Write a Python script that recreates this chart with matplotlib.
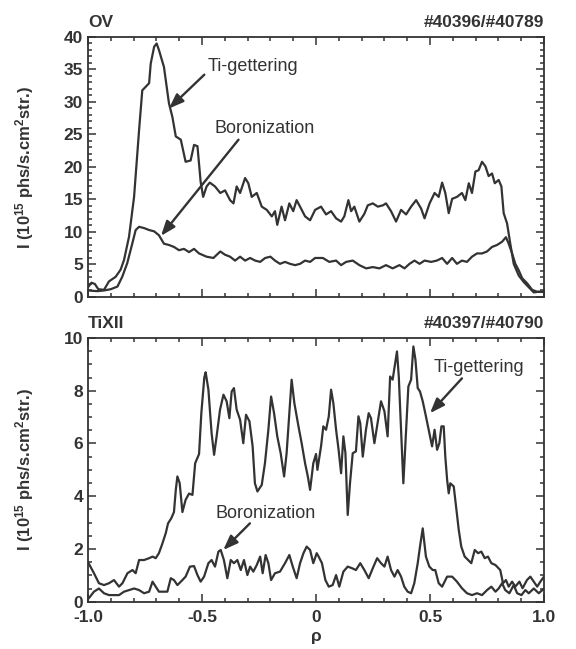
import numpy as np
import matplotlib
matplotlib.use("Agg")
import matplotlib.pyplot as plt
from matplotlib.ticker import MultipleLocator

plt.rcParams.update({
    "font.family": ["Liberation Sans", "DejaVu Sans"],
    "mathtext.default": "regular",
    "font.size": 11,
    "xtick.direction": "in", "ytick.direction": "in",
    "xtick.top": True, "ytick.right": True,
    "xtick.minor.visible": True, "ytick.minor.visible": True,
    "xtick.major.size": 6, "ytick.major.size": 6,
    "xtick.minor.size": 3, "ytick.minor.size": 3,
    "axes.linewidth": 1.3,
})
INK = "#333333"

# ---- OV (top panel) -------------------------------------------------------
ov_ti_rho = [-1.0, -0.985, -0.97, -0.955, -0.93, -0.908, -0.879, -0.857, -0.842, -0.82,
             -0.798, -0.776, -0.762, -0.748, -0.732, -0.725, -0.71, -0.699, -0.689, -0.667,
             -0.645, -0.63, -0.615, -0.593, -0.572, -0.55, -0.535, -0.52, -0.506, -0.495,
             -0.48, -0.466, -0.443, -0.42, -0.399, -0.377, -0.362, -0.348, -0.333, -0.311,
             -0.297, -0.282, -0.26, -0.238, -0.216, -0.194, -0.18, -0.17, -0.151, -0.136,
             -0.117, -0.10, -0.085, -0.07, -0.048, -0.026, -0.004, 0.022, 0.044, 0.066,
             0.088, 0.11, 0.124, 0.142, 0.154, 0.168, 0.19, 0.212, 0.227, 0.249,
             0.271, 0.293, 0.307, 0.329, 0.351, 0.373, 0.395, 0.417, 0.439, 0.461,
             0.476, 0.498, 0.52, 0.538, 0.553, 0.567, 0.582, 0.597, 0.618, 0.64,
             0.655, 0.67, 0.684, 0.699, 0.713, 0.728, 0.743, 0.757, 0.772, 0.784,
             0.801, 0.813, 0.823, 0.838, 0.852, 0.867, 0.889, 0.911, 0.933, 0.955,
             0.975, 1.0]
ov_ti = [1.5, 2.2, 2.0, 1.2, 1.1, 2.4, 3.1, 4.2, 5.7, 9.3,
         15.4, 25.7, 31.8, 32.3, 32.9, 35.9, 38.5, 39.0, 38.0, 35.4,
         29.8, 27.7, 24.7, 24.2, 20.8, 21.0, 23.4, 23.2, 17.7, 15.4,
         17.0, 17.6, 17.0, 16.0, 16.4, 14.9, 14.4, 17.0, 16.0, 18.3,
         17.5, 15.4, 16.0, 13.9, 13.4, 12.4, 13.2, 11.1, 13.9, 11.8,
         14.4, 13.2, 14.9, 13.9, 12.4, 11.8, 13.4, 13.9, 12.7, 13.2,
         12.1, 11.6, 12.4, 14.9, 13.2, 13.9, 11.6, 12.8, 14.1, 14.4,
         13.9, 14.1, 14.4, 13.2, 11.6, 13.4, 12.7, 13.9, 14.9, 13.6,
         12.1, 14.4, 16.0, 15.4, 17.6, 16.0, 12.9, 15.1, 15.4, 16.0,
         14.9, 17.5, 16.0, 19.3, 19.5, 20.8, 20.1, 18.6, 19.0, 17.5,
         18.0, 17.0, 12.9, 11.3, 8.2, 5.1, 3.3, 2.3, 1.5, 0.7,
         0.8, 0.8]

ov_bor_rho = [-1.0, -0.96, -0.93, -0.9, -0.871, -0.85, -0.828, -0.806, -0.791, -0.776,
              -0.754, -0.732, -0.71, -0.689, -0.667, -0.645, -0.623, -0.601, -0.579, -0.557,
              -0.535, -0.513, -0.48, -0.45, -0.42, -0.399, -0.377, -0.355, -0.333, -0.311,
              -0.289, -0.267, -0.245, -0.223, -0.2, -0.18, -0.158, -0.136, -0.114, -0.092,
              -0.07, -0.048, -0.026, -0.004, 0.03, 0.058, 0.088, 0.11, 0.132, 0.161,
              0.19, 0.22, 0.249, 0.278, 0.307, 0.336, 0.366, 0.388, 0.41, 0.432,
              0.454, 0.476, 0.505, 0.53, 0.553, 0.575, 0.597, 0.618, 0.64, 0.662,
              0.684, 0.706, 0.728, 0.75, 0.772, 0.794, 0.816, 0.833, 0.845, 0.86,
              0.874, 0.889, 0.904, 0.926, 0.948, 0.97, 1.0]
ov_bor = [1.0, 0.9, 1.0, 1.2, 1.6, 3.1, 5.2, 8.2, 10.3, 10.8,
          10.6, 10.3, 10.1, 9.5, 8.2, 8.0, 7.7, 7.2, 7.4, 6.9,
          7.4, 6.7, 6.2, 6.0, 7.0, 6.5, 6.2, 5.6, 6.2, 5.6,
          6.0, 5.6, 5.4, 6.0, 6.2, 5.6, 5.1, 5.4, 5.1, 4.9,
          5.1, 5.6, 5.4, 6.0, 6.0, 5.4, 5.6, 4.9, 5.4, 5.6,
          4.9, 4.4, 4.6, 4.4, 4.9, 4.4, 4.9, 4.4, 5.1, 5.6,
          5.1, 5.6, 5.4, 5.6, 6.0, 5.1, 6.0, 5.1, 5.6, 5.4,
          6.2, 6.7, 6.7, 7.0, 7.7, 8.0, 8.5, 9.2, 8.2, 6.7,
          5.1, 4.1, 2.9, 2.1, 1.1, 0.8, 0.8]

# ---- TiXII (bottom panel) -------------------------------------------------
tix_ti_rho = [-1.0, -0.974, -0.952, -0.93, -0.908, -0.886, -0.864, -0.849, -0.827, -0.805,
              -0.791, -0.776, -0.754, -0.732, -0.717, -0.703, -0.689, -0.674, -0.659, -0.649,
              -0.635, -0.623, -0.615, -0.608, -0.598, -0.586, -0.572, -0.557, -0.542, -0.53,
              -0.513, -0.503, -0.49, -0.484, -0.472, -0.458, -0.447, -0.436, -0.421, -0.406,
              -0.392, -0.38, -0.37, -0.36, -0.348, -0.333, -0.319, -0.307, -0.292, -0.278,
              -0.268, -0.257, -0.238, -0.224, -0.209, -0.197, -0.184, -0.17, -0.155, -0.14,
              -0.129, -0.118, -0.107, -0.095, -0.077, -0.063, -0.048, -0.036, -0.026, -0.012,
              0.0, 0.006, 0.022, 0.032, 0.044, 0.056, 0.066, 0.076, 0.088, 0.099,
              0.11, 0.12, 0.129, 0.139, 0.149, 0.161, 0.175, 0.186, 0.194, 0.205,
              0.219, 0.231, 0.241, 0.256, 0.27, 0.285, 0.3, 0.314, 0.325, 0.336,
              0.348, 0.355, 0.363, 0.373, 0.383, 0.395, 0.405, 0.417, 0.427, 0.436,
              0.446, 0.456, 0.468, 0.482, 0.497, 0.509, 0.52, 0.531, 0.541, 0.55,
              0.56, 0.567, 0.575, 0.582, 0.589, 0.604, 0.614, 0.626, 0.637, 0.652,
              0.667, 0.681, 0.696, 0.711, 0.725, 0.74, 0.754, 0.769, 0.787, 0.808,
              0.82, 0.833, 0.845, 0.86, 0.874, 0.892, 0.906, 0.925, 0.94, 0.955,
              0.97, 0.984, 1.0]
tix_ti = [1.5, 1.08, 0.70, 0.63, 0.70, 0.82, 0.57, 0.70, 1.08, 1.2,
          1.08, 1.58, 1.58, 1.65, 1.71, 1.65, 1.84, 2.2, 2.6, 2.97,
          3.16, 3.4, 4.24, 4.75, 4.5, 3.4, 3.86, 4.1, 4.05, 5.25,
          5.6, 7.15, 8.5, 8.7, 8.04, 6.39, 5.57, 6.27, 7.28, 7.85,
          7.6, 6.96, 7.97, 8.1, 7.28, 6.9, 6.01, 7.09, 6.84, 5.89,
          4.49, 4.18, 4.43, 5.25, 6.52, 7.78, 7.15, 6.27, 5.63, 4.75,
          5.63, 7.03, 8.42, 7.53, 6.65, 6.01, 5.25, 4.75, 4.24, 5.25,
          5.6, 5.0, 5.89, 6.65, 6.52, 7.03, 8.04, 7.53, 6.52, 5.76,
          4.87, 6.27, 5.63, 3.29, 4.49, 5.63, 5.7, 7.03, 6.77, 5.5,
          6.52, 7.15, 6.96, 6.01, 6.77, 7.6, 7.22, 6.27, 8.54, 8.42,
          9.11, 9.49, 8.54, 6.52, 4.49, 6.52, 8.16, 8.42, 9.68, 9.18,
          8.1, 7.97, 7.6, 7.03, 6.39, 5.89, 6.52, 5.76, 6.01, 6.65,
          6.65, 5.5, 4.62, 4.11, 4.49, 4.37, 3.61, 2.72, 2.09, 1.71,
          1.58, 1.46, 1.96, 1.84, 1.9, 1.65, 1.71, 1.46, 1.39, 1.2,
          0.70, 0.82, 0.57, 0.76, 0.57, 0.76, 0.51, 0.82, 0.95, 0.76,
          0.57, 0.76, 0.95]

tix_bor_rho = [-1.0, -0.991, -0.974, -0.952, -0.93, -0.908, -0.886, -0.864, -0.842, -0.82,
               -0.798, -0.776, -0.754, -0.732, -0.717, -0.703, -0.689, -0.667, -0.652, -0.637,
               -0.623, -0.608, -0.586, -0.572, -0.553, -0.535, -0.52, -0.506, -0.491, -0.472,
               -0.458, -0.443, -0.428, -0.418, -0.404, -0.389, -0.374, -0.36, -0.345, -0.33,
               -0.316, -0.301, -0.289, -0.275, -0.26, -0.245, -0.234, -0.221, -0.209, -0.197,
               -0.18, -0.158, -0.136, -0.117, -0.102, -0.085, -0.07, -0.055, -0.041, -0.026,
               -0.012, 0.003, 0.012, 0.026, 0.041, 0.056, 0.073, 0.088, 0.102, 0.12,
               0.139, 0.158, 0.175, 0.194, 0.212, 0.231, 0.249, 0.268, 0.285, 0.3,
               0.314, 0.329, 0.344, 0.358, 0.373, 0.387, 0.402, 0.417, 0.431, 0.446,
               0.456, 0.468, 0.482, 0.497, 0.512, 0.523, 0.538, 0.553, 0.575, 0.597,
               0.618, 0.64, 0.662, 0.684, 0.706, 0.728, 0.75, 0.769, 0.787, 0.801,
               0.816, 0.83, 0.848, 0.867, 0.882, 0.901, 0.918, 0.933, 0.955, 0.977,
               1.0]
tix_bor = [0.1, 0.19, 0.38, 0.5, 0.32, 0.25, 0.25, 0.25, 0.38, 0.44,
           0.5, 0.44, 0.32, 0.38, 0.76, 0.57, 0.38, 0.38, 0.38, 0.89,
           0.82, 0.63, 0.82, 0.95, 1.33, 1.35, 1.01, 0.76, 0.95, 1.46,
           1.58, 1.33, 1.9, 1.96, 1.58, 0.89, 1.58, 1.46, 1.58, 1.2,
           1.58, 1.01, 1.33, 1.14, 1.39, 1.71, 1.08, 1.77, 1.46, 0.82,
           1.08, 1.14, 1.46, 1.77, 1.33, 0.89, 1.46, 1.84, 2.09, 1.96,
           1.46, 1.84, 1.7, 1.46, 0.82, 0.57, 0.63, 1.01, 0.57, 1.14,
           1.33, 1.27, 1.2, 1.46, 1.2, 0.89, 1.27, 1.65, 1.46, 1.33,
           1.71, 1.2, 0.95, 1.2, 0.95, 0.57, 0.38, 0.32, 0.70, 1.46,
           2.09, 2.78, 1.71, 1.33, 1.2, 1.2, 0.70, 0.57, 0.95, 0.95,
           0.76, 0.51, 0.32, 0.25, 0.32, 0.25, 0.44, 0.57, 0.38, 0.5,
           0.70, 0.44, 0.32, 0.63, 0.32, 0.25, 0.44, 0.32, 0.5, 0.32,
           0.5]

YLABEL = "I (10$^{15}$ phs/s.cm$^{2}$str.)"


def style(ax, ymax, ymaj, ymin):
    ax.set_xlim(-1.0, 1.0)
    ax.set_ylim(0, ymax)
    ax.xaxis.set_major_locator(MultipleLocator(0.5))
    ax.xaxis.set_minor_locator(MultipleLocator(0.1))
    ax.yaxis.set_major_locator(MultipleLocator(ymaj))
    ax.yaxis.set_minor_locator(MultipleLocator(ymin))
    for s in ax.spines.values():
        s.set_color(INK)
    ax.tick_params(which="both", colors=INK, width=1.1, labelsize=12.5, labelcolor=INK)
    for t in ax.get_yticklabels() + ax.get_xticklabels():
        t.set_fontweight("bold")
    ax.set_ylabel(YLABEL, fontsize=12, fontweight="bold", color=INK)
    ax.yaxis.set_label_coords(-0.115, 0.5)


def note(ax, text, xy, xytext, tx, ty):
    ax.annotate("", xy=xy, xytext=xytext,
                arrowprops=dict(arrowstyle="-|>,head_length=0.8,head_width=0.3",
                                color=INK, lw=1.7, shrinkA=0, shrinkB=0))
    ax.text(tx, ty, text, fontsize=13, color=INK, ha="left", va="center")


fig = plt.figure(figsize=(5.76, 6.49), dpi=100)
ax1 = fig.add_axes([0.1528, 0.5424, 0.7917, 0.4006])
ax2 = fig.add_axes([0.1528, 0.0729, 0.7917, 0.4063])

# top: OV
ax1.plot(ov_ti_rho, ov_ti, color=INK, lw=1.6)
ax1.plot(ov_bor_rho, ov_bor, color=INK, lw=1.6)
style(ax1, 40, 5, 1)
ax1.tick_params(axis="x", labelbottom=False)
ax1.text(0.0, 1.025, "OV", transform=ax1.transAxes, fontsize=12.5,
         fontweight="bold", color=INK, ha="left", va="bottom")
ax1.text(1.0, 1.025, "#40396/#40789", transform=ax1.transAxes, fontsize=12.5,
         fontweight="bold", color=INK, ha="right", va="bottom")
note(ax1, "Ti-gettering", (-0.645, 29.0), (-0.49, 34.2), -0.475, 35.4)
note(ax1, "Boronization", (-0.68, 9.4), (-0.34, 24.2), -0.445, 25.9)

# bottom: TiXII
ax2.plot(tix_ti_rho, tix_ti, color=INK, lw=1.6)
ax2.plot(tix_bor_rho, tix_bor, color=INK, lw=1.6)
style(ax2, 10, 2, 0.5)
ax2.set_xticks([-1.0, -0.5, 0, 0.5, 1.0])
ax2.set_xticklabels(["-1.0", "-0.5", "0", "0.5", "1.0"], fontweight="bold")
ax2.tick_params(axis="x", pad=6)
ax2.set_xlabel("ρ", fontsize=12.5, fontweight="bold", color=INK, labelpad=3)
ax2.text(0.0, 1.025, "TiXII", transform=ax2.transAxes, fontsize=12.5,
         fontweight="bold", color=INK, ha="left", va="bottom")
ax2.text(1.0, 1.025, "#40397/#40790", transform=ax2.transAxes, fontsize=12.5,
         fontweight="bold", color=INK, ha="right", va="bottom")
note(ax2, "Ti-gettering", (0.50, 7.15), (0.64, 8.47), 0.515, 8.9)
note(ax2, "Boronization", (-0.407, 1.96), (-0.29, 2.97), -0.443, 3.35)

fig.savefig("out.png", dpi=100)
